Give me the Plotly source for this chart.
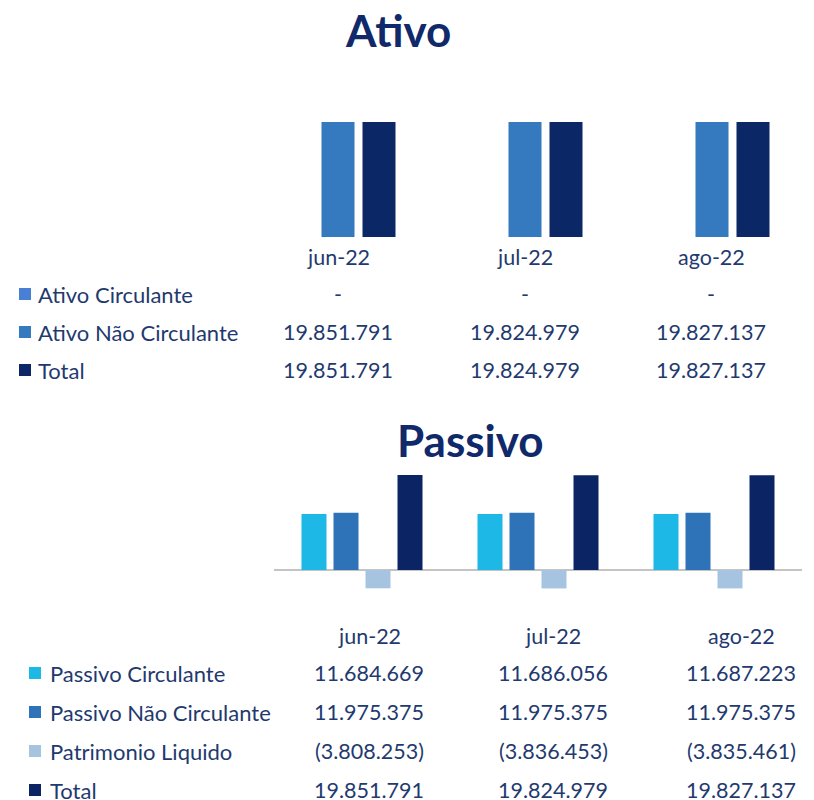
import plotly.graph_objects as go

# ---------------- data ----------------
months = ["jun-22", "jul-22", "ago-22"]

ativo_circulante = [0, 0, 0]
ativo_nao_circulante = [19851791, 19824979, 19827137]
ativo_total = [19851791, 19824979, 19827137]

passivo_circulante = [11684669, 11686056, 11687223]
passivo_nao_circulante = [11975375, 11975375, 11975375]
patrimonio_liquido = [-3808253, -3836453, -3835461]
passivo_total = [19851791, 19824979, 19827137]

ativo_labels = ["Ativo Circulante", "Ativo Não Circulante", "Total"]
passivo_labels = ["Passivo Circulante", "Passivo Não Circulante", "Patrimonio Liquido", "Total"]

# ---------------- styling ----------------
# page body has an 8px margin, so the figure is drawn at (8, 8)
OFF = 8
W, H = 814 - OFF, 800 - OFF
FONT = "Lato"
TXT = "#1F3A6E"
TITLE = "#10296A"

ativo_colors = ["#4A7FD6", "#3579BE", "#0B2766"]
passivo_colors = ["#1DB8E6", "#2E73B8", "#A6C4E0", "#0B2464"]


def px(x):
    return (x - OFF) / W


def py(y):
    return 1 - (y - OFF) / H


def fmt(v):
    if v == 0:
        return "-"
    s = f"{abs(v):,}".replace(",", ".")
    return f"({s})" if v < 0 else s


fig = go.Figure()

# Ativo bars (category width ~187px, bar 33px, slot 41px)
a_series = [ativo_circulante, ativo_nao_circulante, ativo_total]
a_w = 33 / 187
a_slot = 41 / 187
for i, (vals, name, col) in enumerate(zip(a_series, ativo_labels, ativo_colors)):
    c = (i - 1) * a_slot
    fig.add_trace(go.Bar(
        x=months, y=vals, name=name, xaxis="x", yaxis="y",
        width=a_w, offset=c - a_w / 2,
        marker=dict(color=col, line=dict(width=0)),
        showlegend=False, hoverinfo="skip",
    ))

# Passivo bars (category width ~176px, bar 25px, slot 32px)
p_series = [passivo_circulante, passivo_nao_circulante, patrimonio_liquido, passivo_total]
p_w = 25 / 176
p_slot = 32 / 176
for i, (vals, name, col) in enumerate(zip(p_series, passivo_labels, passivo_colors)):
    c = (i - 1.5) * p_slot
    fig.add_trace(go.Bar(
        x=months, y=vals, name=name, xaxis="x2", yaxis="y2",
        width=p_w, offset=c - p_w / 2,
        marker=dict(color=col, line=dict(width=0)),
        showlegend=False, hoverinfo="skip",
    ))

annotations = []
shapes = []

# Titles
annotations.append(dict(text="<b>Ativo</b>", x=px(398), y=py(30), xref="paper", yref="paper",
                        showarrow=False, xanchor="center", yanchor="middle",
                        font=dict(family=FONT, size=44, color=TITLE)))
annotations.append(dict(text="<b>Passivo</b>", x=px(470), y=py(440), xref="paper", yref="paper",
                        showarrow=False, xanchor="center", yanchor="middle",
                        font=dict(family=FONT, size=44, color=TITLE)))

VAL_SIZE = 21.5
LAB_SIZE = 22

# Ativo table
a_cols = [338, 525, 711]
a_rows = [294, 332, 370]
for m, x in zip(months, a_cols):
    annotations.append(dict(text=m, x=px(x), y=py(257), xref="paper", yref="paper",
                            showarrow=False, xanchor="center", yanchor="middle",
                            font=dict(family=FONT, size=VAL_SIZE, color=TXT)))
for r, (lab, vals, col) in enumerate(zip(ativo_labels, a_series, ativo_colors)):
    y = a_rows[r]
    shapes.append(dict(type="rect", xref="paper", yref="paper",
                       x0=px(19), x1=px(31), y0=py(y + 6), y1=py(y - 6),
                       fillcolor=col, line=dict(width=0)))
    annotations.append(dict(text=lab, x=px(36), y=py(y), xref="paper", yref="paper",
                            showarrow=False, xanchor="left", yanchor="middle",
                            font=dict(family=FONT, size=LAB_SIZE, color=TXT)))
    for v, x in zip(vals, a_cols):
        annotations.append(dict(text=fmt(v), x=px(x), y=py(y), xref="paper", yref="paper",
                                showarrow=False, xanchor="center", yanchor="middle",
                                font=dict(family=FONT, size=VAL_SIZE, color=TXT)))

# Passivo table
p_cols = [369, 553, 741]
p_rows = [673, 712, 751, 790]
for m, x in zip(months, p_cols):
    annotations.append(dict(text=m, x=px(x), y=py(636), xref="paper", yref="paper",
                            showarrow=False, xanchor="center", yanchor="middle",
                            font=dict(family=FONT, size=VAL_SIZE, color=TXT)))
for r, (lab, vals, col) in enumerate(zip(passivo_labels, p_series, passivo_colors)):
    y = p_rows[r]
    shapes.append(dict(type="rect", xref="paper", yref="paper",
                       x0=px(29), x1=px(41), y0=py(y + 6), y1=py(y - 6),
                       fillcolor=col, line=dict(width=0)))
    annotations.append(dict(text=lab, x=px(48), y=py(y), xref="paper", yref="paper",
                            showarrow=False, xanchor="left", yanchor="middle",
                            font=dict(family=FONT, size=LAB_SIZE, color=TXT)))
    for v, x in zip(vals, p_cols):
        annotations.append(dict(text=fmt(v), x=px(x), y=py(y), xref="paper", yref="paper",
                                showarrow=False, xanchor="center", yanchor="middle",
                                font=dict(family=FONT, size=VAL_SIZE, color=TXT)))

axis_off = dict(showgrid=False, showticklabels=False, ticks="", showline=False, zeroline=False)

fig.update_layout(
    width=W, height=H,
    margin=dict(l=0, r=0, t=0, b=0),
    paper_bgcolor="white", plot_bgcolor="rgba(0,0,0,0)",
    barmode="overlay",
    showlegend=False,
    xaxis=dict(domain=[px(244.5), px(805.5)], type="category", **axis_off),
    yaxis=dict(domain=[py(237), py(121.1)], range=[0, 20e6], **axis_off),
    xaxis2=dict(domain=[px(274), px(802)], type="category", anchor="y2", **axis_off),
    yaxis2=dict(domain=[py(594), py(474.3)], range=[-5e6, 20e6], anchor="x2",
                showgrid=False, showticklabels=False, ticks="", showline=False,
                zeroline=True, zerolinecolor="#C4C4C4", zerolinewidth=2),
    annotations=annotations,
    shapes=shapes,
    font=dict(family=FONT, color=TXT),
)

fig.write_html("out.html")
